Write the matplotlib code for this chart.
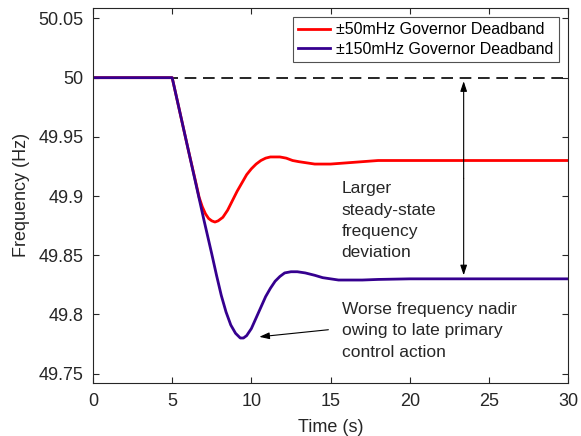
import numpy as np
import matplotlib.pyplot as plt

plt.rcParams['font.family'] = ['Liberation Sans', 'DejaVu Sans']

# valores
t_red = [0, 5, 6, 6.5, 6.7, 6.9, 7.1, 7.3, 7.5, 7.7, 7.9, 8.2, 8.5, 8.8, 9.1, 9.4, 9.7, 10, 10.3, 10.6,
         10.9, 11.2, 11.5, 11.8, 12.2, 12.6, 13, 13.5, 14, 14.5, 15, 16, 17, 18, 20, 25, 30]
f_red = [50, 50, 49.94, 49.911, 49.899, 49.891, 49.885, 49.881, 49.879, 49.878, 49.879, 49.882, 49.888,
         49.896, 49.904, 49.911, 49.918, 49.923, 49.927, 49.930, 49.932, 49.933, 49.933, 49.933, 49.932,
         49.930, 49.929, 49.928, 49.927, 49.927, 49.927, 49.928, 49.929, 49.930, 49.930, 49.930, 49.930]

t_blue = [0, 5, 6, 7, 7.5, 7.8, 8.1, 8.4, 8.7, 9.0, 9.3, 9.5, 9.7, 10, 10.3, 10.6, 10.9, 11.2, 11.5, 11.8,
          12.1, 12.5, 12.9, 13.4, 14, 14.5, 15, 15.5, 16, 17, 18, 20, 25, 30]
f_blue = [50, 50, 49.94, 49.88, 49.851, 49.833, 49.816, 49.802, 49.791, 49.784, 49.780, 49.780, 49.782,
          49.788, 49.797, 49.806, 49.815, 49.822, 49.828, 49.832, 49.835, 49.836, 49.836, 49.835, 49.833,
          49.831, 49.830, 49.829, 49.829, 49.829, 49.8295, 49.830, 49.830, 49.830]

labels = ['±50mHz Governor Deadband', '±150mHz Governor Deadband']

fig = plt.figure(figsize=(5.81, 4.36), dpi=100)
ax = fig.add_axes([0.160, 0.1216, 0.818, 0.8604])

ax.plot([0, 30], [50, 50], 'k--', lw=1.2, dashes=(7, 4))
ax.plot(t_red, f_red, color='#ff0000', lw=2, label=labels[0])
ax.plot(t_blue, f_blue, color='#35008f', lw=2, label=labels[1])

ax.set_xlim(0, 30)
ax.set_ylim(49.742, 50.059)
ax.set_xticks(np.arange(0, 31, 5))
ax.set_yticks([49.75, 49.8, 49.85, 49.9, 49.95, 50, 50.05])
ax.set_yticklabels(['49.75', '49.8', '49.85', '49.9', '49.95', '50', '50.05'])
ax.tick_params(direction='in', top=True, right=True, labelsize=13, length=4, colors='#262626')
ax.tick_params(axis='x', pad=7)
ax.tick_params(axis='y', pad=6.5)
for s in ax.spines.values():
    s.set_color('#262626')
    s.set_linewidth(0.8)

ax.set_xlabel('Time (s)', fontsize=13, color='#262626', labelpad=7)
ax.set_ylabel('Frequency (Hz)', fontsize=13, color='#262626', labelpad=6)

leg = ax.legend(loc='upper right', fontsize=11.5, fancybox=False, handlelength=2.0,
                borderpad=0.3, labelspacing=0.3, handletextpad=0.4, borderaxespad=0.6)
leg.get_frame().set_edgecolor('#262626')
leg.get_frame().set_linewidth(0.8)

# flecha doble
arrow = dict(arrowstyle='-|>,head_width=0.2,head_length=0.6', color='k', lw=0.8, shrinkA=0, shrinkB=0)
ax.annotate('', xy=(23.4, 49.997), xytext=(23.4, 49.915), arrowprops=arrow)
ax.annotate('', xy=(23.4, 49.833), xytext=(23.4, 49.915), arrowprops=arrow)

ax.text(15.7, 49.879, 'Larger\nsteady-state\nfrequency\ndeviation', fontsize=12.5,
        va='center', ha='left', linespacing=1.52, color='#262626')
ax.text(15.7, 49.786, 'Worse frequency nadir\nowing to late primary\ncontrol action', fontsize=12.5,
        va='center', ha='left', linespacing=1.52, color='#262626')
ax.annotate('', xy=(10.5, 49.781), xytext=(14.86, 49.787), arrowprops=arrow)

fig.savefig('out.png', dpi=100)
